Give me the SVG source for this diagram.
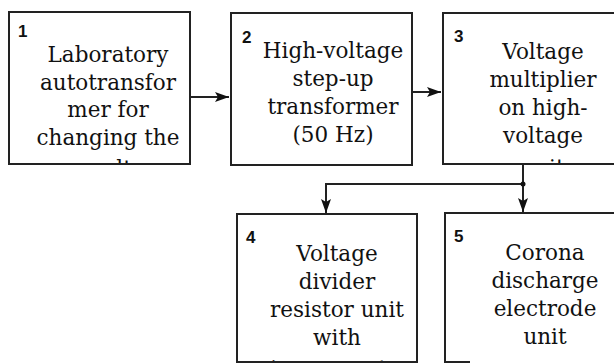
<svg xmlns="http://www.w3.org/2000/svg" width="614" height="363" viewBox="0 0 614 363">
<style>
.box{fill:#fff;stroke:#222;stroke-width:2}
.t{font-family:"DejaVu Serif",serif;font-size:21.5px;fill:#111;text-anchor:middle}
.n{font-family:"Liberation Sans",Arial,sans-serif;font-size:17px;font-weight:bold;fill:#111}
.c{fill:none;stroke:#222;stroke-width:2}
</style>
<defs>
<marker id="ah" viewBox="0 0 14 10" refX="14" refY="5" markerWidth="14" markerHeight="10" markerUnits="userSpaceOnUse" orient="auto">
<path d="M0,0 L14,5 L0,10 L3,5 Z" fill="#111"/>
</marker>
<clipPath id="cp1"><rect x="10" y="13" width="180" height="150"/></clipPath>
<clipPath id="cp3"><rect x="444" y="14" width="172" height="149"/></clipPath>
<clipPath id="cp4"><rect x="238" y="215" width="178" height="146"/></clipPath>
</defs>
<g id="connectors">
<path class="c" d="M190,97 H229" marker-end="url(#ah)"/>
<path class="c" d="M412,92 H441" marker-end="url(#ah)"/>
<path class="c" d="M523,164 V212" marker-end="url(#ah)"/>
<path class="c" d="M523,184 H326 V213" marker-end="url(#ah)"/>
<circle cx="523" cy="184" r="2.5" fill="#111"/>
</g>
<g id="node1">
<rect class="box" x="9" y="12" width="181" height="152"/>
<text class="n" x="18" y="37">1</text>
<g clip-path="url(#cp1)">
<text class="t" x="108" y="62">Laboratory</text>
<text class="t" x="108" y="89.5">autotransfor</text>
<text class="t" x="108" y="117">mer for</text>
<text class="t" x="108" y="145">changing the</text>
<text class="t" x="145" y="176">voltage of</text>
</g>
</g>
<g id="node2">
<rect class="box" x="231" y="13" width="181" height="152"/>
<text class="n" x="242" y="43">2</text>
<text class="t" x="333" y="58">High-voltage</text>
<text class="t" x="333" y="86">step-up</text>
<text class="t" x="333" y="114">transformer</text>
<text class="t" x="333" y="142">(50 Hz)</text>
</g>
<g id="node3">
<rect class="box" x="443" y="13" width="175" height="151"/>
<text class="n" x="454" y="42">3</text>
<g clip-path="url(#cp3)">
<text class="t" x="543" y="59">Voltage</text>
<text class="t" x="543" y="87">multiplier</text>
<text class="t" x="543" y="115">on high-</text>
<text class="t" x="543" y="143">voltage</text>
<text class="t" x="543" y="175">unit</text>
</g>
</g>
<g id="node4">
<rect class="box" x="237" y="214" width="180" height="148"/>
<text class="n" x="246" y="243">4</text>
<g clip-path="url(#cp4)">
<text class="t" x="337" y="261">Voltage</text>
<text class="t" x="337" y="289">divider</text>
<text class="t" x="337" y="317">resistor unit</text>
<text class="t" x="337" y="345">with</text>
<text class="t" x="330" y="376">microammeter</text>
</g>
</g>
<g id="node5">
<path class="c" d="M445,364 V213 H618"/>
<path class="c" d="M445,362 H470"/>
<text class="n" x="454" y="242">5</text>
<text class="t" x="545" y="260">Corona</text>
<text class="t" x="545" y="288">discharge</text>
<text class="t" x="545" y="316">electrode</text>
<text class="t" x="545" y="344">unit</text>
</g>
</svg>
